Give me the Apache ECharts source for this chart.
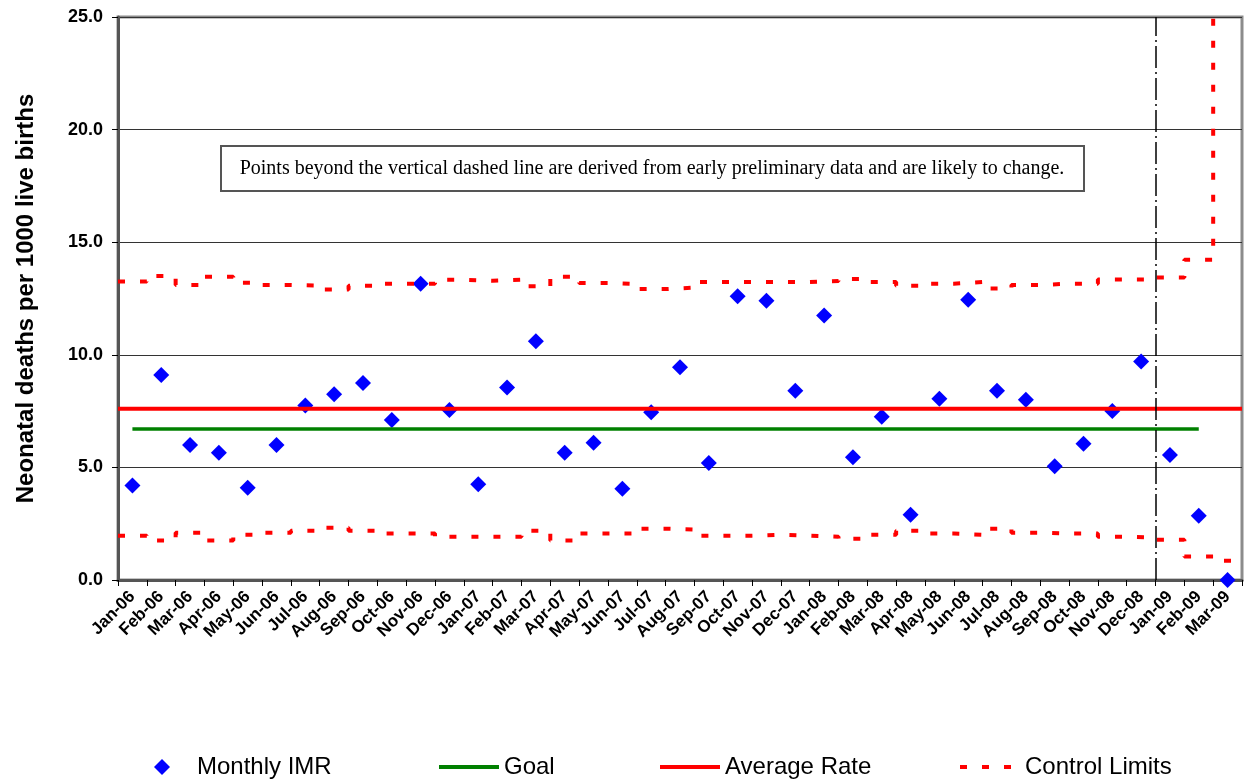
<!DOCTYPE html>
<html>
<head>
<meta charset="utf-8">
<title>Neonatal deaths control chart</title>
<script src="https://cdn.jsdelivr.net/npm/echarts@6/dist/echarts.min.js"></script>
<style>
  html, body { margin: 0; padding: 0; background: #fff; }
  #chart { width: 1249px; height: 781px; }
</style>
</head>
<body>
<div id="chart"></div>
<script>
// months on the x axis
var months = [
  "Jan-06", "Feb-06", "Mar-06", "Apr-06", "May-06", "Jun-06", "Jul-06", "Aug-06", "Sep-06", "Oct-06", "Nov-06", "Dec-06",
  "Jan-07", "Feb-07", "Mar-07", "Apr-07", "May-07", "Jun-07", "Jul-07", "Aug-07", "Sep-07", "Oct-07", "Nov-07", "Dec-07",
  "Jan-08", "Feb-08", "Mar-08", "Apr-08", "May-08", "Jun-08", "Jul-08", "Aug-08", "Sep-08", "Oct-08", "Nov-08", "Dec-08",
  "Jan-09", "Feb-09", "Mar-09"
];

// monthly rate (per 1000 live births)
var monthlyIMR = [
  4.2, 9.1, 6.0, 5.65, 4.1, 6.0, 7.75, 8.25, 8.75, 7.1, 13.15, 7.55,
  4.25, 8.55, 10.6, 5.65, 6.1, 4.05, 7.45, 9.45, 5.2, 12.6, 12.4, 8.4,
  11.75, 5.45, 7.25, 2.9, 8.05, 12.45, 8.4, 8.0, 5.05, 6.05, 7.5, 9.7,
  5.55, 2.85, 0.0
];

// control limits, one value per month (Mar-09 upper is off the scale)
var upperLimit = [
  13.25, 13.5, 13.1, 13.47, 13.2, 13.1, 13.07, 12.9, 13.07, 13.16, 13.16, 13.33,
  13.29, 13.33, 13.04, 13.47, 13.19, 13.14, 12.92, 12.98, 13.23, 13.23, 13.23, 13.23,
  13.28, 13.37, 13.23, 13.07, 13.16, 13.23, 12.94, 13.1, 13.16, 13.16, 13.34, 13.34,
  13.43, 14.22, 30
];
var lowerLimit = [
  1.97, 1.75, 2.1, 1.75, 2.01, 2.1, 2.19, 2.32, 2.19, 2.06, 2.06, 1.92,
  1.92, 1.92, 2.19, 1.75, 2.06, 2.06, 2.28, 2.24, 1.97, 1.97, 2.01, 1.97,
  1.92, 1.83, 2.01, 2.19, 2.06, 2.01, 2.28, 2.1, 2.06, 2.06, 1.92, 1.88,
  1.79, 1.04, 0.86
];

var goalRate = 6.7;
var goalFrom = "Jan-06";
var goalTo = "Feb-09";
var averageRate = 7.6;
var preliminaryFrom = "Jan-09"; // vertical dashed line sits at the start of this month

var yTicks = [0, 5, 10, 15, 20, 25];
var noteText = "Points beyond the vertical dashed line are derived from early preliminary data and are likely to change.";

// step lines span whole month widths -> use a hidden value axis 0..n
function stepData(arr) {
  var out = arr.map(function (v, i) { return [i, v]; });
  out.push([arr.length, arr[arr.length - 1]]);
  return out;
}

var chart = echarts.init(document.getElementById("chart"));

var labelFont = "Liberation Sans, Arial, sans-serif";

// one legend per entry so the gaps can follow the original
function lineLegend(name, left) {
  return {
    data: [name],
    left: left,
    top: 755,
    padding: 0,
    itemWidth: 60,
    itemHeight: 15,
    itemStyle: { opacity: 0 },
    lineStyle: { width: 4 },
    textStyle: { fontFamily: labelFont, fontSize: 24, color: "#000" }
  };
}

var option = {
  animation: false,
  backgroundColor: "#fff",
  grid: {
    left: 118,
    right: 7,
    top: 17,
    bottom: 201,
    show: true,
    borderColor: "#8c8c8c",
    borderWidth: 3
  },
  legend: [
    {
      data: ["Monthly IMR"],
      left: 154,
      top: 755,
      padding: 0,
      itemWidth: 16,
      itemHeight: 16,
      textStyle: { fontFamily: labelFont, fontSize: 24, color: "#000", padding: [0, 0, 0, 22] }
    },
    lineLegend("Goal", 437),
    lineLegend("Average Rate", 658),
    lineLegend("Control Limits", 958)
  ],
  xAxis: [
    {
      type: "category",
      data: months,
      boundaryGap: true,
      axisLine: { lineStyle: { color: "#555", width: 3 } },
      axisTick: { show: true, length: 6, lineStyle: { color: "#000", width: 1 } },
      axisLabel: {
        interval: 0,
        rotate: 45,
        margin: 14,
        fontFamily: labelFont,
        fontWeight: "bold",
        fontSize: 17,
        color: "#000"
      },
      splitLine: { show: false }
    },
    {
      type: "value",
      min: 0,
      max: months.length,
      show: false
    }
  ],
  yAxis: {
    type: "value",
    min: yTicks[0],
    max: yTicks[yTicks.length - 1],
    interval: yTicks[1] - yTicks[0],
    name: "Neonatal deaths per 1000 live births",
    nameLocation: "middle",
    nameGap: 80,
    nameTextStyle: { fontFamily: labelFont, fontWeight: "bold", fontSize: 24, color: "#000" },
    axisLine: { show: true, lineStyle: { color: "#555", width: 3 } },
    axisTick: { show: true, length: 6, lineStyle: { color: "#000", width: 1 } },
    axisLabel: {
      margin: 15,
      fontFamily: labelFont,
      fontWeight: "bold",
      fontSize: 18,
      color: "#000",
      formatter: function (v) { return v.toFixed(1); }
    },
    splitLine: { show: true, lineStyle: { color: "#333", width: 1 } }
  },
  graphic: [
    {
      type: "group",
      left: 220,
      top: 145,
      children: [
        {
          type: "rect",
          shape: { x: 0, y: 0, width: 863, height: 45 },
          style: { fill: "#fff", stroke: "#555", lineWidth: 2 }
        },
        {
          type: "text",
          x: 431,
          y: 23,
          style: {
            text: noteText,
            fill: "#000",
            font: "20px 'Liberation Serif', 'Times New Roman', serif",
            align: "center",
            verticalAlign: "middle"
          }
        }
      ]
    }
  ],
  series: [
    {
      name: "Monthly IMR",
      type: "scatter",
      xAxisIndex: 0,
      data: monthlyIMR,
      symbol: "diamond",
      symbolSize: 16,
      itemStyle: { color: "#0000ff", opacity: 1 },
      z: 2
    },
    {
      name: "Goal",
      type: "line",
      xAxisIndex: 0,
      data: [[goalFrom, goalRate], [goalTo, goalRate]],
      symbol: "none",
      lineStyle: { color: "#008000", width: 3.5 },
      itemStyle: { color: "#008000" },
      z: 3
    },
    {
      name: "Average Rate",
      type: "line",
      xAxisIndex: 1,
      data: [[0, averageRate], [months.length, averageRate]],
      symbol: "none",
      lineStyle: { color: "#ff0000", width: 4 },
      itemStyle: { color: "#ff0000" },
      z: 3
    },
    {
      name: "Control Limits",
      type: "line",
      xAxisIndex: 1,
      step: "end",
      data: stepData(upperLimit),
      symbol: "none",
      clip: true,
      lineStyle: { color: "#ff0000", width: 4, type: [7, 15] },
      itemStyle: { color: "#ff0000" },
      z: 3,
      markLine: {
        silent: true,
        symbol: "none",
        label: { show: false },
        lineStyle: { color: "#000", width: 1.5, type: [22, 4, 2, 4] },
        data: [{ xAxis: months.indexOf(preliminaryFrom) }]
      }
    },
    {
      name: "Control Limits",
      type: "line",
      xAxisIndex: 1,
      step: "end",
      data: stepData(lowerLimit),
      symbol: "none",
      clip: true,
      lineStyle: { color: "#ff0000", width: 4, type: [7, 15] },
      itemStyle: { color: "#ff0000" },
      z: 3
    }
  ]
};

chart.setOption(option);
window.addEventListener("resize", function () {
  chart.resize();
});
</script>
</body>
</html>
